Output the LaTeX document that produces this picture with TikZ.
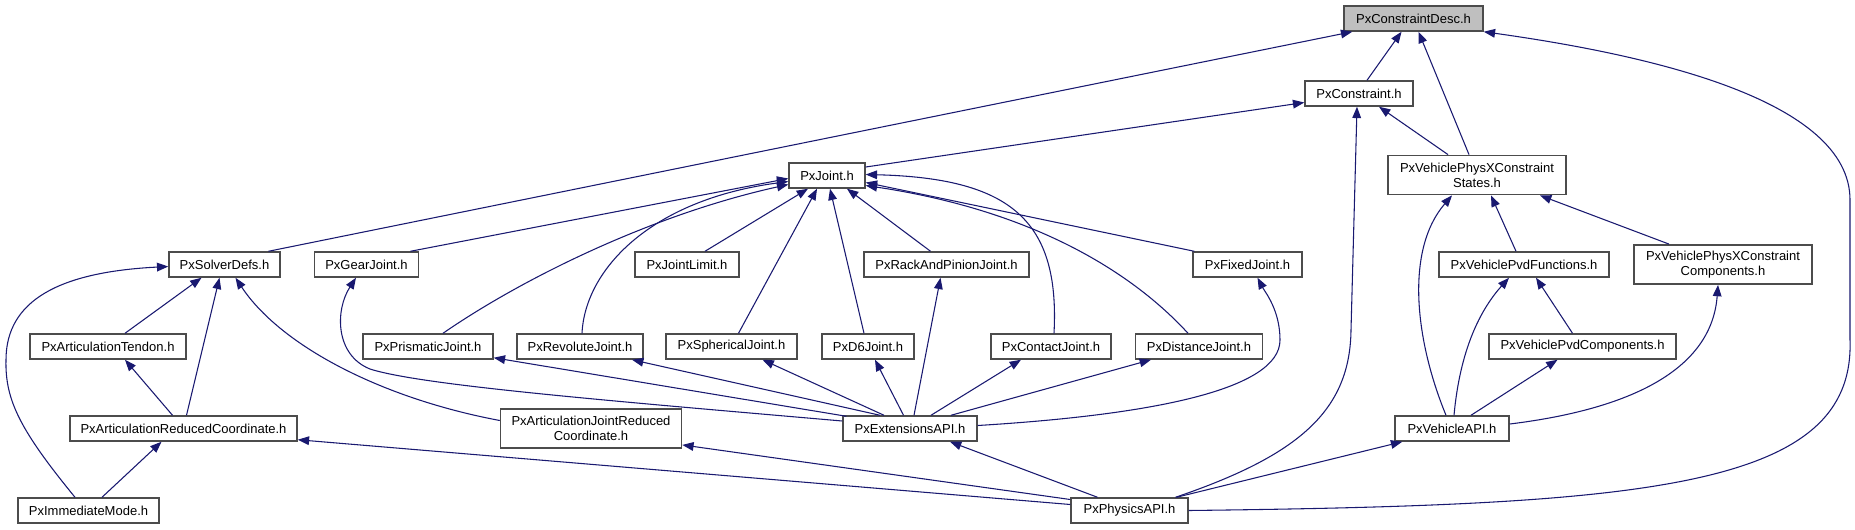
\documentclass[tikz,border=0pt]{standalone}
\usepackage{fontspec}
\setmainfont{Liberation Sans}
\usetikzlibrary{arrows.meta,calc}
\definecolor{edgeblue}{HTML}{191970}
\definecolor{descgray}{HTML}{BFBFBF}
\begin{document}
\begin{tikzpicture}[x=0.75pt,y=-0.75pt,
  box/.style={draw=black!70, line width=1.1pt, fill=white, inner sep=0pt,
    minimum height=18.75pt, font=\fontsize{9.75}{11.25}\selectfont, align=center},
  tall/.style={minimum height=29.5pt},
  edge/.style={draw=edgeblue, line width=0.8pt, -{Triangle[length=8.5pt,width=6.5pt]}}]
\path[use as bounding box] (0,0) rectangle (1855,529);
% nodes
\node[box, fill=descgray, minimum width=104.25pt] (desc) at (1413.5,18.5) {PxConstraintDesc.h};
\node[box, minimum width=81pt] (constraint) at (1359,93.5) {PxConstraint.h};
\node[box, tall, minimum width=133.5pt] (states) at (1477,175) {PxVehiclePhysXConstraint\\States.h};
\node[box, minimum width=57pt] (joint) at (827,175.5) {PxJoint.h};
\node[box, minimum width=83.25pt] (solver) at (224.5,264.5) {PxSolverDefs.h};
\node[box, minimum width=78pt] (gear) at (366.5,264.5) {PxGearJoint.h};
\node[box, minimum width=78pt] (jointlimit) at (687,264.5) {PxJointLimit.h};
\node[box, minimum width=123.75pt] (rack) at (946.5,264.5) {PxRackAndPinionJoint.h};
\node[box, minimum width=81.75pt] (fixed) at (1247.5,264.5) {PxFixedJoint.h};
\node[box, minimum width=127.5pt] (pvdfunc) at (1524,264.5) {PxVehiclePvdFunctions.h};
\node[box, tall, minimum width=133.5pt] (comps) at (1723,264.5) {PxVehiclePhysXConstraint\\Components.h};
\node[box, minimum width=117pt] (tendon) at (108,346.5) {PxArticulationTendon.h};
\node[box, minimum width=97.5pt] (prismatic) at (428,346.5) {PxPrismaticJoint.h};
\node[box, minimum width=94.5pt] (revolute) at (580,346.5) {PxRevoluteJoint.h};
\node[box, minimum width=98.25pt] (spherical) at (731.5,346.5) {PxSphericalJoint.h};
\node[box, minimum width=69pt] (d6) at (868,346.5) {PxD6Joint.h};
\node[box, minimum width=90pt] (contact) at (1051,346.5) {PxContactJoint.h};
\node[box, minimum width=95.25pt] (distance) at (1199,346.5) {PxDistanceJoint.h};
\node[box, minimum width=140.25pt] (pvdcomp) at (1582.5,346.5) {PxVehiclePvdComponents.h};
\node[box, minimum width=170.25pt] (artred) at (183.5,428.5) {PxArticulationReducedCoordinate.h};
\node[box, tall, minimum width=135.75pt] (artjoint) at (591,428.5) {PxArticulationJointReduced\\Coordinate.h};
\node[box, minimum width=100.5pt] (ext) at (910,428.5) {PxExtensionsAPI.h};
\node[box, minimum width=85.5pt] (vehapi) at (1452,428.5) {PxVehicleAPI.h};
\node[box, minimum width=105.75pt] (immediate) at (88.5,510.5) {PxImmediateMode.h};
\node[box, minimum width=87.75pt] (physics) at (1129.5,510.5) {PxPhysicsAPI.h};
% edges to PxConstraintDesc.h
\draw[edge] ($(solver.north)+(44,0)$) -- ($(desc.south west)+(9,0)$);
\draw[edge] ($(constraint.north)+(8,0)$) -- ($(desc.south)+(-12,0)$);
\draw[edge] ($(states.north)+(-8,0)$) -- ($(desc.south)+(5,0)$);
\draw[edge] (physics.east) .. controls (1650,505) and (1855,488) .. (1850,340)
  -- (1850,200) .. controls (1850,100) and (1650,55) .. (desc.south east);
% edges to PxConstraint.h
\draw[edge] ($(joint.east)+(0,-8.5)$) -- ($(constraint.west)+(0,9)$);
\draw[edge] ($(states.north)+(-29,0)$) -- ($(constraint.south)+(20,0)$);
\draw[edge] ($(physics.north)+(46,0)$) .. controls (1300,455) and (1350,410) .. (1351,330)
  -- ($(constraint.south)+(-2,0)$);
% edges to PxJoint.h
\draw[edge] ($(gear.north)+(44,0)$) -- ($(joint.west)+(0,3)$);
\draw[edge] ($(prismatic.north)+(15,0)$) .. controls (520,280) and (650,215) .. ($(joint.west)+(0,9)$);
\draw[edge] ($(revolute.north)+(2,0)$) .. controls (585,270) and (650,200) .. ($(joint.west)+(0,6)$);
\draw[edge] ($(jointlimit.north)+(18,0)$) -- ($(joint.south)+(-19,0)$);
\draw[edge] ($(spherical.north)+(7,0)$) -- ($(joint.south)+(-10,0)$);
\draw[edge] ($(d6.north)+(-4,0)$) -- ($(joint.south)+(3,0)$);
\draw[edge] ($(rack.north)+(-16,0)$) -- ($(joint.south)+(20,0)$);
\draw[edge] ($(contact.north)+(3,0)$) .. controls (1060,220) and (1010,178) .. ($(joint.east)+(0,-1)$);
\draw[edge] ($(distance.north)+(-11,0)$) .. controls (1130,270) and (1030,210) .. ($(joint.east)+(0,10)$);
\draw[edge] ($(fixed.north west)+(2,0)$) -- ($(joint.east)+(0,7)$);
% edges to PxSolverDefs.h
\draw[edge] ($(tendon.north)+(17,0)$) -- ($(solver.south)+(-23,0)$);
\draw[edge] ($(artred.north)+(3,0)$) -- ($(solver.south)+(-5,0)$);
\draw[edge] ($(artjoint.west)+(0,-8)$) .. controls (380,398) and (280,345) .. ($(solver.south)+(11,0)$);
\draw[edge] ($(immediate.north)+(-13.5,0)$) .. controls (20,430) and (5,400) .. (6,360)
  .. controls (6,300) and (60,272) .. ($(solver.west)+(0,2)$);
% PxArticulationTendon.h / PxArticulationReducedCoordinate.h
\draw[edge] ($(artred.north)+(-11,0)$) -- ($(tendon.south)+(17,0)$);
\draw[edge] ($(immediate.north)+(13.5,0)$) -- ($(artred.south)+(-22,0)$);
\draw[edge] ($(physics.west)+(0,-6)$) -- ($(artred.south east)+(0,-2)$);
\draw[edge] ($(physics.west)+(0,-11)$) -- ($(artjoint.south east)+(0,-4)$);
% edges from PxExtensionsAPI.h
\draw[edge] ($(ext.west)+(0,-7.5)$) .. controls (600,400) and (420,385) .. (370,369)
  .. controls (335,355) and (335,310) .. ($(gear.south)+(-10.5,0)$);
\draw[edge] ($(ext.north west)+(4,1)$) -- ($(prismatic.south east)+(0,-2)$);
\draw[edge] ($(ext.north)+(-30,0)$) -- ($(revolute.south)+(52,0)$);
\draw[edge] ($(ext.north)+(-26,0)$) -- ($(spherical.south)+(31,0)$);
\draw[edge] ($(ext.north)+(-6.5,0)$) -- ($(d6.south)+(7,0)$);
\draw[edge] ($(ext.north)+(4,0)$) -- ($(rack.south)+(-6,0)$);
\draw[edge] ($(ext.north)+(21,0)$) -- ($(contact.south)+(-30,0)$);
\draw[edge] ($(ext.north)+(41,0)$) -- ($(distance.south)+(-48,0)$);
\draw[edge] ($(ext.east)+(0,-3)$) .. controls (1150,415) and (1280,390) .. (1280,340)
  .. controls (1280,310) and (1265,292) .. ($(fixed.south)+(10,0)$);
\draw[edge] ($(physics.north)+(-32,0)$) -- ($(ext.south)+(40,0)$);
% vehicle part
\draw[edge] ($(vehapi.north)+(-6,0)$) .. controls (1415,340) and (1405,250) .. ($(states.south)+(-25,0)$);
\draw[edge] ($(pvdfunc.north)+(-8,0)$) -- ($(states.south)+(14,0)$);
\draw[edge] ($(comps.north)+(-54,0)$) -- ($(states.south)+(63,0)$);
\draw[edge] ($(vehapi.north)+(2,0)$) .. controls (1460,350) and (1480,310) .. ($(pvdfunc.south)+(-15,0)$);
\draw[edge] ($(pvdcomp.north)+(-10,0)$) -- ($(pvdfunc.south)+(12,0)$);
\draw[edge] ($(vehapi.north)+(19,0)$) -- ($(pvdcomp.south)+(-25,0)$);
\draw[edge] ($(vehapi.east)+(0,-4.5)$) .. controls (1640,408) and (1712,365) .. ($(comps.south)+(-5,0)$);
\draw[edge] ($(physics.north)+(47,0)$) -- ($(vehapi.south west)+(8,0)$);
\end{tikzpicture}
\end{document}
